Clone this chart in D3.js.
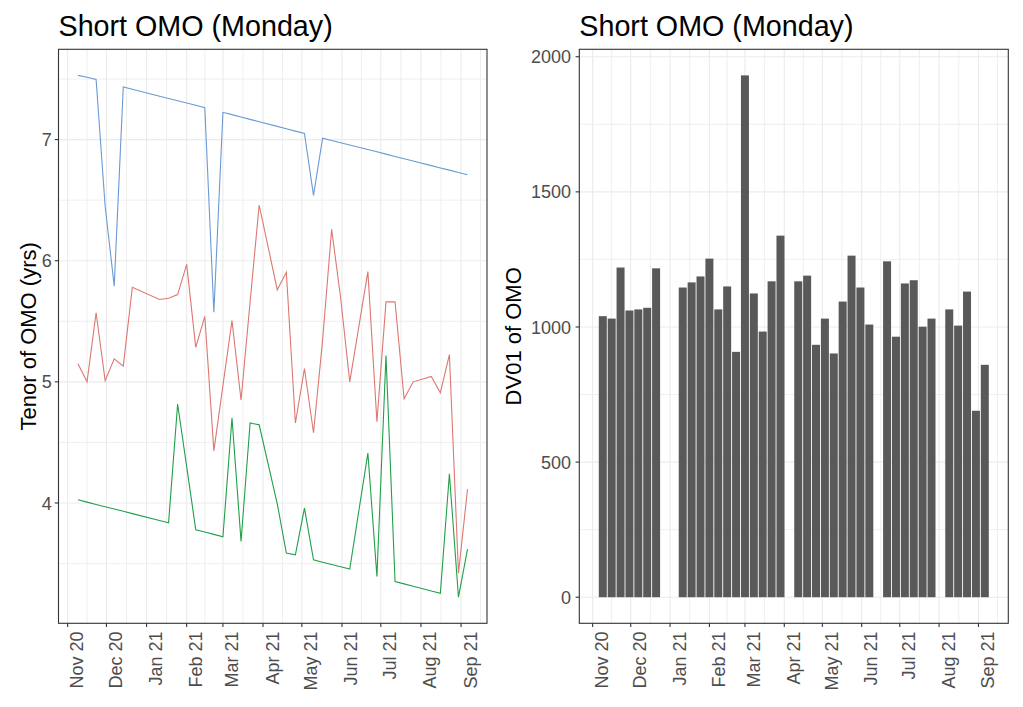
<!DOCTYPE html>
<html><head><meta charset="utf-8">
<script src="https://cdn.jsdelivr.net/npm/d3@7"></script>
<style>body{margin:0;background:#fff} text{font-family:"Liberation Sans",Arial,sans-serif}</style>
</head><body><svg id="c" width="1023" height="707"></svg>
<script>
// ---- data (Mondays) ----
const dates = ["2020-11-09","2020-11-16","2020-11-23","2020-11-30","2020-12-07","2020-12-14","2020-12-21",
 "2021-01-11","2021-01-18","2021-01-25","2021-02-01","2021-02-08","2021-02-15","2021-02-22","2021-03-01",
 "2021-03-08","2021-03-15","2021-03-22","2021-03-29","2021-04-12","2021-04-19","2021-04-26","2021-05-03",
 "2021-05-10","2021-05-17","2021-05-24","2021-05-31","2021-06-07","2021-06-21","2021-06-28","2021-07-05",
 "2021-07-12","2021-07-19","2021-07-26","2021-08-09","2021-08-16","2021-08-23","2021-08-30","2021-09-06"];
const tenorBlue = [7.53,7.515,7.497,6.45,5.79,7.434,7.415,7.358,7.339,7.32,7.302,7.283,7.264,5.574,7.225,
 7.206,7.187,7.167,7.148,7.109,7.09,7.07,7.051,6.539,7.012,6.993,6.974,6.955,6.918,6.899,6.88,
 6.861,6.842,6.823,6.785,6.766,6.748,6.729,6.71];
const tenorRed = [5.15,5.0,5.57,5.01,5.19,5.13,5.78,5.68,5.69,5.72,5.97,5.285,5.54,4.43,4.97,
 5.505,4.85,5.66,6.46,5.76,5.905,4.66,5.11,4.58,5.34,6.26,5.69,5.0,5.91,4.67,5.66,
 5.66,4.86,5.0,5.045,4.91,5.225,3.42,4.115];
const tenorGreen = [4.026,4.007,3.988,3.969,3.95,3.931,3.912,3.855,3.836,4.817,4.30,3.779,3.76,3.741,3.721,
 4.702,3.682,4.66,4.645,3.993,3.586,3.572,3.958,3.53,3.511,3.492,3.473,3.454,4.412,3.393,5.217,
 3.351,3.332,3.313,3.274,3.255,4.241,3.222,3.619];
const dv01 = [1040,1031,1220,1061,1065,1071,1217,1146,1165,1187,1253,1065,1150,908,1931,
 1124,983,1169,1338,1169,1190,934,1031,902,1094,1264,1146,1009,1243,964,1161,
 1173,1001,1031,1065,1005,1131,690,860];
const monthTicks = ["2020-11-01","2020-12-01","2021-01-01","2021-02-01","2021-03-01","2021-04-01",
 "2021-05-01","2021-06-01","2021-07-01","2021-08-01","2021-09-01"];
const tenorTicks = [4,5,6,7];
const dv01Ticks = [0,500,1000,1500,2000];
const titleText = "Short OMO (Monday)";
const leftYTitle = "Tenor of OMO (yrs)";
const rightYTitle = "DV01 of OMO";
const lineColors = {blue:"#6B9AD3", red:"#DC7870", green:"#21A04A"};

// ---- setup ----
const svg = d3.select("#c");
svg.append("rect").attr("width",1023).attr("height",707).attr("fill","#fff");
const parse = d3.timeParse("%Y-%m-%d");
const D = dates.map(parse);
const T = monthTicks.map(parse);
const DAY = 864e5;
const pTop = 49.3, pBottom = 623.3;
const fmt = d3.timeFormat("%b %y");
function expand(a,b,f){const r=b-a;return [a-r*f,b+r*f];}

function minorMid(ticks, step){
  const out=[];
  for(let i=0;i<ticks.length-1;i++) out.push((ticks[i]+ticks[i+1])/2);
  out.unshift(ticks[0]-step/2); out.push(ticks[ticks.length-1]+step/2);
  return out;
}

function panel(o){
  const g = svg.append("g");
  const x = d3.scaleTime().domain(o.xDomain).range([o.x0,o.x1]);
  const y = d3.scaleLinear().domain(o.yDomain).range([pBottom,pTop]);
  const tn = T.map(d=>+d);
  const xm = [];
  for(let i=0;i<tn.length-1;i++) xm.push((tn[i]+tn[i+1])/2);
  xm.unshift(tn[0]-15.5*DAY); xm.push(tn[tn.length-1]+15*DAY);
  const ym = minorMid(o.yTicks, o.yTicks[1]-o.yTicks[0]);
  const grid = g.append("g");
  xm.filter(v=>x(v)>o.x0&&x(v)<o.x1).forEach(v=>grid.append("line").attr("x1",x(v)).attr("x2",x(v)).attr("y1",pTop).attr("y2",pBottom).attr("stroke","#EBEBEB").attr("stroke-width",0.8));
  ym.filter(v=>y(v)>pTop&&y(v)<pBottom).forEach(v=>grid.append("line").attr("y1",y(v)).attr("y2",y(v)).attr("x1",o.x0).attr("x2",o.x1).attr("stroke","#EBEBEB").attr("stroke-width",0.8));
  T.forEach(v=>grid.append("line").attr("x1",x(v)).attr("x2",x(v)).attr("y1",pTop).attr("y2",pBottom).attr("stroke","#EBEBEB").attr("stroke-width",1.1));
  o.yTicks.forEach(v=>grid.append("line").attr("y1",y(v)).attr("y2",y(v)).attr("x1",o.x0).attr("x2",o.x1).attr("stroke","#EBEBEB").attr("stroke-width",1.1));
  o.draw(g,x,y);
  g.append("rect").attr("x",o.x0).attr("y",pTop).attr("width",o.x1-o.x0).attr("height",pBottom-pTop).attr("fill","none").attr("stroke","#333333").attr("stroke-width",1.1);
  T.forEach(v=>{
    g.append("line").attr("x1",x(v)).attr("x2",x(v)).attr("y1",pBottom).attr("y2",pBottom+3.7).attr("stroke","#333333").attr("stroke-width",1.1);
    g.append("text").attr("transform",`translate(${x(v)+15.5},${pBottom+8.2}) rotate(-90)`).attr("text-anchor","end").attr("font-size",18).attr("fill","#4D4D4D").text(fmt(v));
  });
  o.yTicks.forEach(v=>{
    g.append("line").attr("y1",y(v)).attr("y2",y(v)).attr("x1",o.x0-3.7).attr("x2",o.x0).attr("stroke","#333333").attr("stroke-width",1.1);
    g.append("text").attr("x",o.x0-o.labGap).attr("y",y(v)+6.6).attr("text-anchor","end").attr("font-size",18).attr("fill","#4D4D4D").text(d3.format("d")(v));
  });
  g.append("text").attr("x",o.x0).attr("y",36.3).attr("font-size",28.7).attr("fill","#000").text(titleText);
  g.append("text").attr("transform",`translate(${o.yTitleX},${(pTop+pBottom)/2}) rotate(-90)`).attr("text-anchor","middle").attr("font-size",22).attr("fill","#000").text(o.yTitle);
}

// ---- left: lines ----
const allTenor = tenorBlue.concat(tenorRed, tenorGreen);
panel({
  x0:58.5, x1:487,
  xDomain: expand(+D[0], +D[D.length-1], 0.05),
  yDomain: expand(d3.min(allTenor), d3.max(allTenor), 0.05),
  yTicks: tenorTicks, labGap:6.8, yTitle:leftYTitle, yTitleX:35.5,
  draw:(g,x,y)=>{
    const line = d3.line().x((d,i)=>x(D[i])).y(d=>y(d));
    [["red",tenorRed],["green",tenorGreen],["blue",tenorBlue]].forEach(([k,arr])=>{
      g.append("path").datum(arr).attr("d",line).attr("fill","none").attr("stroke",lineColors[k]).attr("stroke-width",1.1);
    });
  }
});

// ---- right: bars ----
const half = 3.15*DAY;
panel({
  x0:579.3, x1:1008.3,
  xDomain: expand(+D[0]-half, +D[D.length-1]+half, 0.05),
  yDomain: expand(0, d3.max(dv01), 0.05),
  yTicks: dv01Ticks, labGap:8.3, yTitle:rightYTitle, yTitleX:521,
  draw:(g,x,y)=>{
    g.selectAll("rect.bar").data(dv01).enter().append("rect").attr("class","bar")
      .attr("x",(d,i)=>x(+D[i]-half)).attr("width",(d,i)=>x(+D[i]+half)-x(+D[i]-half))
      .attr("y",d=>y(d)).attr("height",d=>y(0)-y(d)).attr("fill","#595959");
  }
});
</script></body></html>
